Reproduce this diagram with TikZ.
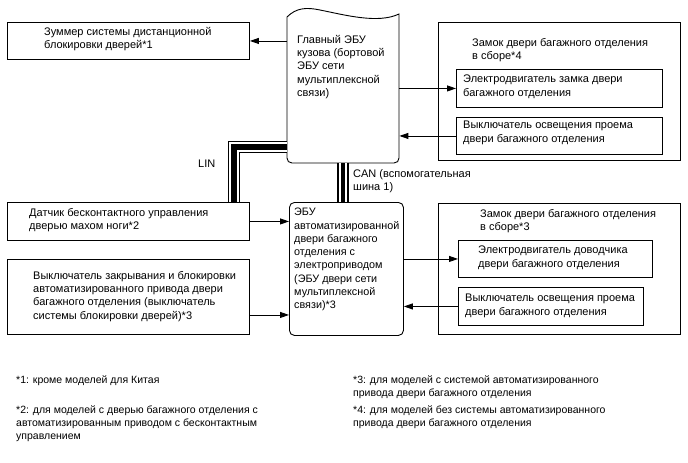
\documentclass[tikz,border=0pt]{standalone}
\usepackage{fontspec}
\setmainfont{Liberation Sans}
\usetikzlibrary{arrows.meta}
\begin{document}
\begin{tikzpicture}[x=1pt,y=-1pt,
 box/.style={draw,line width=0.9pt,inner sep=0,anchor=north west},
 rbox/.style={box,rounded corners=5pt},
 hold/.style={inner sep=0,anchor=north west},
 txt/.style={inner sep=0,anchor=north west,align=left,font=\fontsize{11}{13.3}\selectfont},
 fn/.style={txt,font=\fontsize{10.5}{13}\selectfont},
 arr/.style={line width=0.9pt,-{Triangle[length=9pt,width=6pt]}},
 lin/.style={line width=5.5pt,preaction={draw,line width=12pt},preaction={draw,white,line width=10pt}},
 can/.style={line width=3.5pt,preaction={draw,line width=12pt},preaction={draw,white,line width=8pt}}]
\useasboundingbox[fill=white] (0,0) rectangle (688,463);

% boxes
\node[box,minimum width=242pt,minimum height=37pt] (buzz) at (7,22) {};
\node[box,minimum width=242pt,minimum height=138pt] (tr) at (438,22) {};
\node[box,minimum width=206pt,minimum height=38pt] (b1) at (456,69) {};
\node[box,minimum width=206pt,minimum height=37pt] (b2) at (456,117) {};
\node[box,minimum width=242pt,minimum height=38pt] (dat) at (7,202) {};
\node[box,minimum width=242pt,minimum height=75pt] (sw) at (7,259) {};
\node[rbox,minimum width=114pt,minimum height=133pt] (ecu2) at (289,202) {};
\node[box,minimum width=242pt,minimum height=131pt] (br) at (438,203) {};
\node[box,minimum width=194pt,minimum height=37pt] (b3) at (458,240) {};
\node[box,minimum width=185pt,minimum height=38pt] (b4) at (458,287) {};

% main ECU (document shape)
\node[hold,minimum width=112pt,minimum height=151pt] (mecu) at (287,12) {};
\draw[line width=0.9pt] (287,17) .. controls (296,8) and (306,7) .. (320,10)
  .. controls (345,15) and (378,24) .. (399,14) -- (399,158)
  .. controls (399,161) and (397,163) .. (394,163) -- (292,163)
  .. controls (289,163) and (287,161) .. (287,158) -- cycle;

% texts
\node[txt] (buzzt) at (44,27) {Зуммер системы дистанционной\\блокировки дверей*1};
\node[txt] (mecut) at (297,35) {Главный ЭБУ\\кузова (бортовой\\ЭБУ сети\\мультиплексной\\связи)};
\node[txt] (trt) at (472,38) {Замок двери багажного отделения\\в сборе*4};
\node[txt] (b1t) at (463,75) {Электродвигатель замка двери\\багажного отделения};
\node[txt] (b2t) at (463,121) {Выключатель освещения проема\\двери багажного отделения};
\node[txt] (lint) at (198,160) {LIN};
\node[txt] (cant) at (353,169) {CAN (вспомогательная\\шина 1)};
\node[txt] (datt) at (29,208) {Датчик бесконтактного управления\\дверью махом ноги*2};
\node[txt] (swt) at (33,271) {Выключатель закрывания и блокировки\\автоматизированного привода двери\\багажного отделения (выключатель\\системы блокировки дверей)*3};
\node[txt,font=\fontsize{10.8}{13.3}\selectfont] (ecu2t) at (294,208) {ЭБУ\\автоматизированной\\двери багажного\\отделения с\\электроприводом\\(ЭБУ двери сети\\мультиплексной\\связи)*3};
\node[txt] (brt) at (480,209) {Замок двери багажного отделения\\в сборе*3};
\node[txt] (b3t) at (478,246) {Электродвигатель доводчика\\двери багажного отделения};
\node[txt] (b4t) at (465,294) {Выключатель освещения проема\\двери багажного отделения};

\node[fn] (fn1) at (16,376) {*1: кроме моделей для Китая};
\node[fn] (fn2) at (16,406) {*2: для моделей с дверью багажного отделения с\\автоматизированным приводом с бесконтактным\\управлением};
\node[fn] (fn3) at (353,376) {*3: для моделей с системой автоматизированного\\привода двери багажного отделения};
\node[fn] (fn4) at (353,406) {*4: для моделей без системы автоматизированного\\привода двери багажного отделения};

% connectors
\draw[arr] (buzz.east -| mecu.west) -- (buzz.east);
\draw[arr] (b1.west -| mecu.east) -- (b1.west);
\draw[arr] (b2.west) -- (b2.west -| mecu.east);
\draw[arr] (dat.east) -- (dat.east -| ecu2.west);
\draw[arr] ([yshift=-18pt]sw.east) -- ([yshift=-18pt]sw.east -| ecu2.west);
\draw[arr] (b3.west -| ecu2.east) -- (b3.west);
\draw[arr] (b4.west) -- (b4.west -| ecu2.east);

% buses
\draw[lin] (mecu.west |- 0,147) -| (dat.north -| 234,0);
\draw[can] (mecu.south -| 343,0) -- (ecu2.north -| 343,0);
\end{tikzpicture}
\end{document}
